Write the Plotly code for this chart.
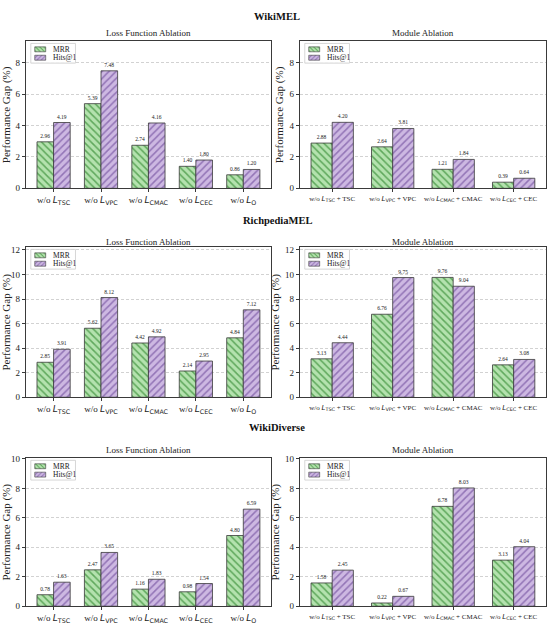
import plotly.graph_objects as go

# ---------------- data ----------------
datasets = ["WikiMEL", "RichpediaMEL", "WikiDiverse"]
loss_cats = ["TSC", "VPC", "CMAC", "CEC", "O"]
module_cats = ["TSC", "VPC", "CMAC", "CEC"]
series_names = ["MRR", "Hits@1"]

wikimel_loss_mrr = [2.96, 5.39, 2.74, 1.40, 0.86]
wikimel_loss_hits = [4.19, 7.48, 4.16, 1.80, 1.20]
wikimel_mod_mrr = [2.88, 2.64, 1.21, 0.39]
wikimel_mod_hits = [4.20, 3.81, 1.84, 0.64]

rich_loss_mrr = [2.85, 5.62, 4.42, 2.14, 4.84]
rich_loss_hits = [3.91, 8.12, 4.92, 2.95, 7.12]
rich_mod_mrr = [3.13, 6.76, 9.76, 2.64]
rich_mod_hits = [4.44, 9.75, 9.04, 3.08]

div_loss_mrr = [0.78, 2.47, 1.16, 0.98, 4.80]
div_loss_hits = [1.63, 3.65, 1.83, 1.54, 6.59]
div_mod_mrr = [1.58, 0.22, 6.78, 3.13]
div_mod_hits = [2.45, 0.67, 8.03, 4.04]

rows = [
    (wikimel_loss_mrr, wikimel_loss_hits, wikimel_mod_mrr, wikimel_mod_hits),
    (rich_loss_mrr, rich_loss_hits, rich_mod_mrr, rich_mod_hits),
    (div_loss_mrr, div_loss_hits, div_mod_mrr, div_mod_hits),
]

# ---------------- style ----------------
W, H = 550, 626
SERIF = "Liberation Serif, Times New Roman, serif"
SANS = "DejaVu Sans"
BG = ["#b4e2ae", "#cdb8e2"]
FG = ["#5fa85c", "#9274b6"]
SHAPES = ["\\", "/"]
EDGE = "#3a3a3a"

xpix = [(22, 269), (298, 546)]
ypix = [(38, 187), (247, 399), (461, 611)]
xdom = [[a / W, b / W] for a, b in xpix]
ydom = [[1 - b / H, 1 - t / H] for t, b in ypix]
title_y = [13, 220, 430]
sub_y = [29, 241, 453]

# legend box geometry (pixels, relative to the axes' top-left corner)
LEG_X, LEG_Y, LEG_W, LEG_H = 5, 2, 45, 20
SW_X, SW_W, SW_H = 4, 11, 5
ROW_Y = [6, 14.5]
TXT_X = 20


def lbl(c):
    return ('w/o <span style="font-family:%s"><i>L</i><sub>%s</sub></span>' % (SANS, c))


def mlbl(c):
    return ('w/o <span style="font-family:%s"><i>L</i><sub>%s</sub></span> + %s' % (SANS, c, c))


fig = go.Figure()
annotations = []
layout = {}
idx = 0
for r, (lm, lh, mm, mh) in enumerate(rows):
    ymax = max(lm + lh + mm + mh) * 1.25
    for c in range(2):
        idx += 1
        ax = "" if idx == 1 else str(idx)
        lax = str(idx + 6)
        if c == 0:
            cats = ["w/o L_" + k for k in loss_cats]
            ticks = [lbl(k) for k in loss_cats]
            series = [lm, lh]
            tfs = 9
        else:
            cats = ["w/o L_" + k + " + " + k for k in module_cats]
            ticks = [mlbl(k) for k in module_cats]
            series = [mm, mh]
            tfs = 7
        n = len(cats)
        for s in range(2):
            vals = series[s]
            fig.add_trace(go.Bar(
                x=cats, y=vals, name=series_names[s], showlegend=False,
                xaxis="x" + ax, yaxis="y" + ax,
                marker=dict(color=BG[s], line=dict(color=EDGE, width=0.8),
                            pattern=dict(shape=SHAPES[s], fgcolor=FG[s], bgcolor=BG[s],
                                         size=5, solidity=0.3, fillmode="replace")),
                text=["%.2f" % v for v in vals], textposition="outside",
                textfont=dict(family=SERIF, size=5.5, color="#222"),
                cliponaxis=False,
            ))
        layout["xaxis" + ax] = dict(
            domain=xdom[c], anchor="y" + ax, type="category",
            range=[-0.35 - 0.05 * (n - 0.3), n - 1 + 0.35 + 0.05 * (n - 0.3)],
            tickmode="array", tickvals=cats, ticktext=ticks,
            tickfont=dict(family=SERIF, size=tfs, color="#222"),
            showline=True, mirror=True, linecolor=EDGE, linewidth=1,
            ticks="outside", ticklen=3, tickcolor=EDGE, showgrid=False,
        )
        layout["yaxis" + ax] = dict(
            domain=ydom[r], anchor="x" + ax, range=[0, ymax], dtick=2,
            tickfont=dict(family=SERIF, size=9, color="#222"),
            showline=True, mirror=True, linecolor=EDGE, linewidth=1,
            ticks="outside", ticklen=3, tickcolor=EDGE,
            showgrid=True, gridcolor="#d2d2d2", griddash="3px,2px", gridwidth=0.7,
            zeroline=False,
            title=dict(text="Performance Gap (%)", font=dict(family=SERIF, size=11, color="#222"),
                       standoff=3),
        )

        # ----- legend drawn on an overlay axis measured in pixels -----
        aw = xpix[c][1] - xpix[c][0]
        ah = ypix[r][1] - ypix[r][0]
        layout["xaxis" + lax] = dict(overlaying="x" + ax, anchor="y" + lax, range=[0, aw],
                                     visible=False, fixedrange=True)
        layout["yaxis" + lax] = dict(overlaying="y" + ax, anchor="x" + lax, range=[ah, 0],
                                     visible=False, fixedrange=True)
        fig.add_trace(go.Bar(
            y=[LEG_Y + LEG_H / 2], x=[LEG_W], base=[LEG_X], width=[LEG_H], orientation="h",
            xaxis="x" + lax, yaxis="y" + lax, showlegend=False, hoverinfo="skip",
            marker=dict(color="rgba(255,255,255,0.9)", line=dict(color="#cccccc", width=0.8)),
        ))
        for s in range(2):
            fig.add_trace(go.Bar(
                y=[LEG_Y + ROW_Y[s]], x=[SW_W], base=[LEG_X + SW_X], width=[SW_H],
                orientation="h", xaxis="x" + lax, yaxis="y" + lax,
                showlegend=False, hoverinfo="skip",
                marker=dict(color=BG[s], line=dict(color=EDGE, width=0.6),
                            pattern=dict(shape=SHAPES[s], fgcolor=FG[s], bgcolor=BG[s],
                                         size=3, solidity=0.35, fillmode="replace")),
            ))
            annotations.append(dict(
                text=series_names[s], x=LEG_X + TXT_X, y=LEG_Y + ROW_Y[s],
                xref="x" + lax, yref="y" + lax, showarrow=False,
                xanchor="left", yanchor="middle",
                font=dict(family=SERIF, size=7.5, color="#222"),
            ))

        annotations.append(dict(
            text="Loss Function Ablation" if c == 0 else "Module Ablation",
            x=(xdom[c][0] + xdom[c][1]) / 2, y=1 - sub_y[r] / H,
            xref="paper", yref="paper", showarrow=False, xanchor="center", yanchor="middle",
            font=dict(family=SERIF, size=9, color="#222"),
        ))
    annotations.append(dict(
        text="<b>%s</b>" % datasets[r], x=0.5, y=1 - title_y[r] / H,
        xref="paper", yref="paper", showarrow=False, xanchor="center", yanchor="middle",
        font=dict(family=SERIF, size=10.5, color="#111"),
    ))

fig.update_layout(
    width=W, height=H, margin=dict(l=0, r=0, t=0, b=0),
    paper_bgcolor="white", plot_bgcolor="white",
    barmode="group", bargap=0.3, bargroupgap=0,
    annotations=annotations, showlegend=False,
    **layout,
)
fig.write_html("out.html", config={"displayModeBar": False},
               post_script="document.body.style.margin='0';document.body.style.overflow='hidden';")
